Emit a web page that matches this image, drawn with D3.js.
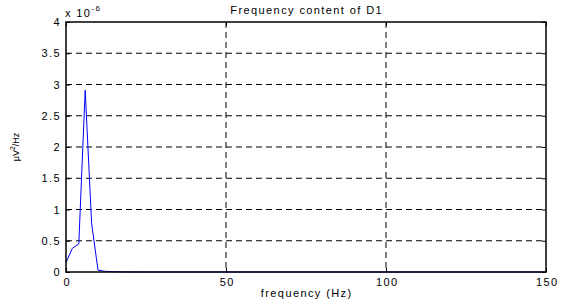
<!DOCTYPE html>
<html>
<head>
<meta charset="utf-8">
<script src="https://cdn.jsdelivr.net/npm/d3@7"></script>
<style>
  body { margin: 0; background: #fff; }
  text { font-family: "Liberation Sans", Arial, sans-serif; }
</style>
</head>
<body>
<div id="chart"></div>
<script>
// frequency bins (Hz)
var freqs = [0, 2, 4, 6, 8, 10, 12, 14, 16, 18, 20, 22, 24, 26, 28, 30, 32, 34, 36, 38, 40,
             42, 44, 46, 48, 50, 52, 54, 56, 58, 60, 62, 64, 66, 68, 70, 72, 74, 76, 78, 80,
             82, 84, 86, 88, 90, 92, 94, 96, 98, 100, 102, 104, 106, 108, 110, 112, 114, 116,
             118, 120, 122, 124, 126, 128, 130, 132, 134, 136, 138, 140, 142, 144, 146, 148, 150];
// power, in units of 1e-6
var power = [0.15, 0.38, 0.45, 2.91, 0.78, 0.03, 0.012, 0.006, 0.003, 0.002, 0.001, 0.001, 0, 0, 0, 0, 0, 0, 0, 0, 0,
             0, 0, 0, 0, 0, 0, 0, 0, 0, 0, 0, 0, 0, 0, 0, 0, 0, 0, 0, 0,
             0, 0, 0, 0, 0, 0, 0, 0, 0, 0, 0, 0, 0, 0, 0, 0, 0, 0,
             0, 0, 0, 0, 0, 0, 0, 0, 0, 0, 0, 0, 0, 0, 0, 0, 0];
var xTicks = [0, 50, 100, 150];
var yTicks = [0, 0.5, 1, 1.5, 2, 2.5, 3, 3.5, 4];

drawChart();

function drawChart() {
    var width = 561, height = 307;
    var pLeft = 66, pRight = 546, pTop = 22, pBottom = 272;
    var ls = "1.4px";

    var svg = d3.select("#chart").append("svg")
        .attr("width", width)
        .attr("height", height);

    var x = d3.scaleLinear().domain([0, 150]).range([pLeft, pRight]);
    var y = d3.scaleLinear().domain([0, 4]).range([pBottom, pTop]);

    // dashed grid
    svg.selectAll(".hgrid")
        .data(yTicks.filter(function(d) { return d > 0 && d < 4; }))
      .enter().append("line")
        .attr("x1", pLeft).attr("x2", pRight)
        .attr("y1", function(d) { return y(d); })
        .attr("y2", function(d) { return y(d); })
        .style("stroke", "#000").style("stroke-width", 1)
        .style("stroke-dasharray", "6,4");

    svg.selectAll(".vgrid")
        .data(xTicks.filter(function(d) { return d > 0 && d < 150; }))
      .enter().append("line")
        .attr("y1", pTop).attr("y2", pBottom)
        .attr("x1", function(d) { return x(d); })
        .attr("x2", function(d) { return x(d); })
        .style("stroke", "#000").style("stroke-width", 1)
        .style("stroke-dasharray", "6,4");

    // the line
    var line = d3.line()
        .x(function(d, i) { return x(freqs[i]); })
        .y(function(d) { return y(d); });

    svg.append("path")
        .datum(power)
        .attr("d", line)
        .style("fill", "none")
        .style("stroke", "#0000ff")
        .style("stroke-width", 1);

    // axes (ticks point inward)
    var xAxis = d3.axisBottom(x).tickValues(xTicks).tickSize(-4).tickPadding(6);
    var yAxis = d3.axisLeft(y).tickValues(yTicks).tickSize(-4).tickPadding(5)
        .tickFormat(function(d) { return String(d); });

    var gx = svg.append("g").attr("transform", "translate(0," + pBottom + ")").call(xAxis);
    var gy = svg.append("g").attr("transform", "translate(" + pLeft + ",0)").call(yAxis);
    [gx, gy].forEach(function(g) {
        g.select(".domain").remove();
        g.selectAll("text").style("font-size", "11px").style("fill", "#000")
            .style("letter-spacing", ls)
            .style("font-family", "'Liberation Sans', Arial, sans-serif");
        g.selectAll("line").style("stroke", "#000");
    });
    gx.selectAll("text").attr("dx", "0.7px");

    // top/right ticks
    svg.append("g").attr("transform", "translate(0," + pTop + ")")
        .call(d3.axisTop(x).tickValues(xTicks).tickSize(-4).tickFormat(""))
        .call(function(g) { g.select(".domain").remove(); g.selectAll("line").style("stroke", "#000"); });
    svg.append("g").attr("transform", "translate(" + pRight + ",0)")
        .call(d3.axisRight(y).tickValues(yTicks).tickSize(-4).tickFormat(""))
        .call(function(g) { g.select(".domain").remove(); g.selectAll("line").style("stroke", "#000"); });

    // box
    svg.append("rect")
        .attr("x", pLeft).attr("y", pTop)
        .attr("width", pRight - pLeft).attr("height", pBottom - pTop)
        .style("fill", "none").style("stroke", "#000").style("stroke-width", 1.5);

    // labels
    svg.append("text")
        .attr("x", (pLeft + pRight) / 2 + 0.7).attr("y", 14)
        .attr("text-anchor", "middle")
        .style("font-size", "11px").style("letter-spacing", ls)
        .text("Frequency content of D1");

    var exp = svg.append("text")
        .attr("x", pLeft - 1).attr("y", 17)
        .style("font-size", "11px").style("letter-spacing", ls)
        .text("x 10");
    exp.append("tspan").attr("dy", -6).style("font-size", "8px").text("-6");

    svg.append("text")
        .attr("x", (pLeft + pRight) / 2 + 0.7).attr("y", 297)
        .attr("text-anchor", "middle")
        .style("font-size", "11px").style("letter-spacing", ls)
        .text("frequency (Hz)");

    var yl = svg.append("text")
        .attr("transform", "translate(19," + (pTop + pBottom) / 2 + ") rotate(-90)")
        .attr("text-anchor", "middle")
        .style("font-size", "9px")
        .text("\u03bcV");
    yl.append("tspan").attr("dy", -4).style("font-size", "7px").text("2");
    yl.append("tspan").attr("dy", 4).text("/Hz");
}
</script>
</body>
</html>
